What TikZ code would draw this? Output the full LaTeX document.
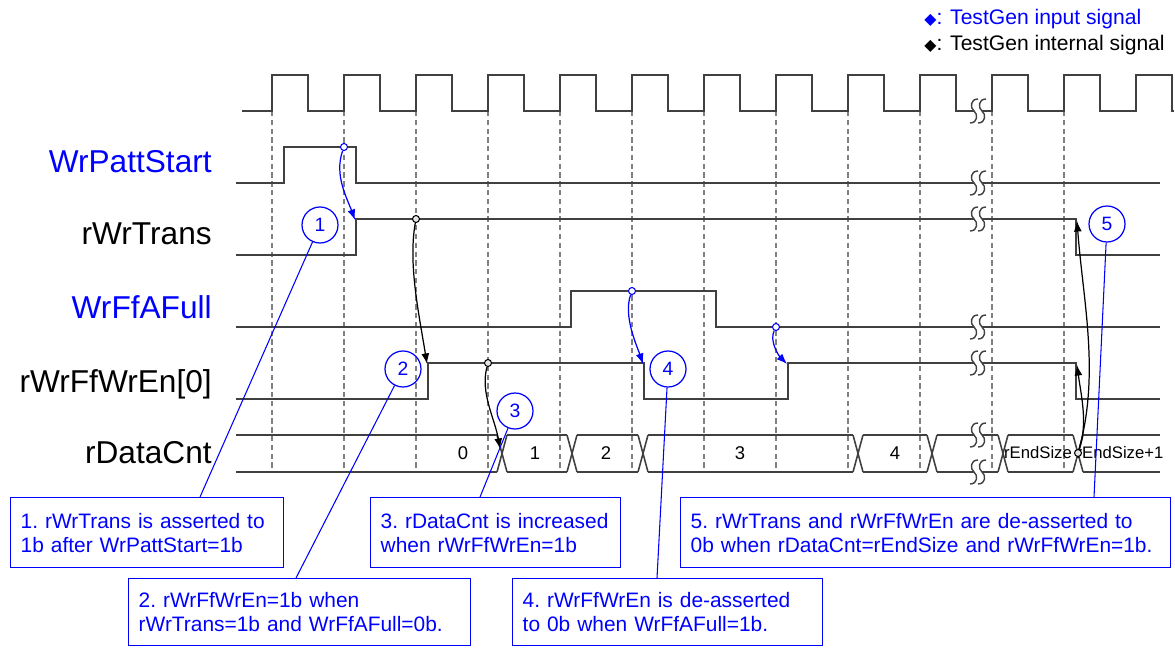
\documentclass[tikz,border=0pt]{standalone}
\usepackage{fontspec}
\setmainfont{Liberation Sans}
\newfontfamily\symfont{DejaVu Sans}
\usetikzlibrary{arrows.meta}

\begin{document}
\begin{tikzpicture}[x=0.02cm, y=-0.02cm,
  wave/.style={draw=black!75, line width=0.9pt},
  tick/.style={draw=black!50, line width=0.8pt, dash pattern=on 3pt off 2pt},
  signame/.style={anchor=base east, inner sep=0pt, font=\fontsize{18}{20}\selectfont},
  val/.style={anchor=base, inner sep=0pt, font=\fontsize{10.5}{12}\selectfont},
  num/.style={circle, draw=blue, text=blue, minimum size=0.72cm, inner sep=0pt, line width=0.7pt, font=\fontsize{11}{12}\selectfont},
  note/.style={anchor=north west, draw=blue, text=blue, line width=0.8pt, align=left, inner xsep=0.2cm,
    execute at begin node={\frenchspacing\hyphenpenalty=10000}, font=\fontsize{11.9}{13.7}\selectfont},
  dot/.style={circle, draw, fill=black!10, inner sep=0pt, minimum size=0.14cm, line width=0.6pt},
  arr/.style={line width=0.7pt, -{Latex[length=6pt,width=4.5pt]}},
  brk/.pic={
    \fill[white] (-4,-3) rectangle (4,3);
    \foreach \sx in {-4,4}
      \draw[black!75, line width=0.8pt] (\sx+4,-12) .. controls (\sx-4,-12) and (\sx-4,-3) .. (\sx,0) .. controls (\sx+4,3) and (\sx+4,12) .. (\sx-4,12);
  }]
  \useasboundingbox (0,0) rectangle (1175,648);

  % legend
  \node[anchor=base west, inner sep=0pt, text=blue, font=\fontsize{12}{14}\selectfont] (LgA) at (924,25) {{\symfont\fontsize{9}{10}\selectfont ◆}: TestGen input signal};
  \node[anchor=base west, inner sep=0pt, font=\fontsize{12}{14}\selectfont] (LgB) at (924,51) {{\symfont\fontsize{9}{10}\selectfont ◆}: TestGen internal signal};

  % clock edges
  \foreach \e in {272,344,...,1064}
    \draw[tick] (\e,111) -- (\e,472);

  % signal names
  \node[signame, text=blue] (S1) at (212,173) {WrPattStart};
  \node[signame] (S2) at (212,245) {rWrTrans};
  \node[signame, text=blue] (S3) at (212,318) {WrFfAFull};
  \node[signame] (S4) at (212,392) {rWrFfWrEn[0]};
  \node[signame] (S5) at (212,463) {rDataCnt};

  % waveforms
  \draw[wave] (242,111) \foreach \e in {272,344,...,1136} { -- (\e,111) -- (\e,75) -- (\e+36,75) -- (\e+36,111) } -- (1174,111);
  \draw[wave] (236,183) -- (284,183) -- (284,147) -- (356,147) -- (356,183) -- (1160,183);
  \draw[wave] (236,255) -- (356,255) -- (356,219) -- (1076,219) -- (1076,255) -- (1160,255);
  \draw[wave] (236,327) -- (571,327) -- (571,291) -- (716,291) -- (716,327) -- (1160,327);
  \draw[wave] (236,399) -- (428,399) -- (428,363) -- (644,363) -- (644,399) -- (788,399) -- (788,363) -- (1076,363) -- (1076,399) -- (1160,399);
  \foreach \a/\b in {231/502,502/572,572/643,643/858,858/932,932/1003,1003/1078,1078/1165}
    \draw[wave] (\a+5,435) -- (\b-5,435) (\a+5,472) -- (\b-5,472);
  \foreach \e in {502,572,643,858,932,1003,1078}
    \draw[wave] (\e-5,435) -- (\e+5,472) (\e-5,472) -- (\e+5,435);
  \foreach \yy in {111,183,219,327,363,435,472}
    \pic at (978,\yy) {brk};

  % rDataCnt values
  \node[val] (V0) at (463,459) {0};
  \node[val] (V1) at (535,459) {1};
  \node[val] (V2) at (606,459) {2};
  \node[val] (V3) at (740,459) {3};
  \node[val] (V4) at (895,459) {4};
  \node[val, font=\fontsize{9.5}{11}\selectfont] (V5) at (1038,458) {rEndSize};
  \node[val, font=\fontsize{9.5}{11}\selectfont] (V6) at (1120,458) {rEndSize+1};

  % cause and effect
  \node[dot, draw=blue, fill=white] (D1) at (344,147) {};
  \node[dot] (D2) at (416,219) {};
  \node[dot] (D3) at (488,363) {};
  \node[dot, draw=blue, fill=white] (D4) at (632,291) {};
  \node[dot, draw=blue, fill=white] (D5) at (776,327) {};
  \node[dot] (D6) at (1078,453) {};
  \coordinate (E1) at (355,220);
  \coordinate (E2) at (427,364);
  \coordinate (E3) at (500,449);
  \coordinate (E4) at (643,364);
  \coordinate (E5) at (787,364);
  \coordinate (E6) at (1077,365);
  \coordinate (E7) at (1077,221);
  \draw[arr, blue] (D1) .. controls +(-10,28) and +(-8,-22) .. (E1);
  \draw[arr] (D2) .. controls +(-8,45) and +(-8,-50) .. (E2);
  \draw[arr] (D3) .. controls +(-8,30) and +(-5,-30) .. (E3);
  \draw[arr, blue] (D4) .. controls +(-9,25) and +(-6,-18) .. (E4);
  \draw[arr, blue] (D5) .. controls +(-7,14) and +(-8,-8) .. (E5);
  \draw[arr] (D6) .. controls +(10,-30) and +(4,30) .. (E6);
  \draw[arr] (D6) .. controls +(22,-80) and +(6,80) .. (E7);

  % notes
  \node[num] (C1) at (320,225) {1};
  \node[num] (C2) at (403,369) {2};
  \node[num] (C3) at (515,411) {3};
  \node[num] (C4) at (668,369) {4};
  \node[num] (C5) at (1107,224) {5};
  \node[note, text width=5.06cm, minimum height=1.4cm] (B1) at (10,497) {1. rWrTrans is asserted to\\1b after WrPattStart=1b};
  \node[note, text width=4.6cm, minimum height=1.4cm] (B3) at (370,497) {3. rDataCnt is increased\\when rWrFfWrEn=1b};
  \node[note, text width=9.4cm, minimum height=1.4cm] (B5) at (680,497) {5. rWrTrans and rWrFfWrEn are de-asserted to\\0b when rDataCnt=rEndSize and rWrFfWrEn=1b.};
  \node[note, text width=6.44cm, minimum height=1.34cm] (B2) at (128,578) {2. rWrFfWrEn=1b when\\rWrTrans=1b and WrFfAFull=0b.};
  \node[note, text width=5.8cm, minimum height=1.34cm] (B4) at (512,578) {4. rWrFfWrEn is de-asserted\\to 0b when WrFfAFull=1b.};
  \coordinate (L1) at (200,497);
  \coordinate (L2) at (296,578);
  \coordinate (L3) at (480,497);
  \coordinate (L4) at (657,578);
  \coordinate (L5) at (1094,497);
  \foreach \i in {1,...,5}
    \draw[blue, line width=0.6pt] (C\i) -- (L\i);
\end{tikzpicture}
\end{document}
